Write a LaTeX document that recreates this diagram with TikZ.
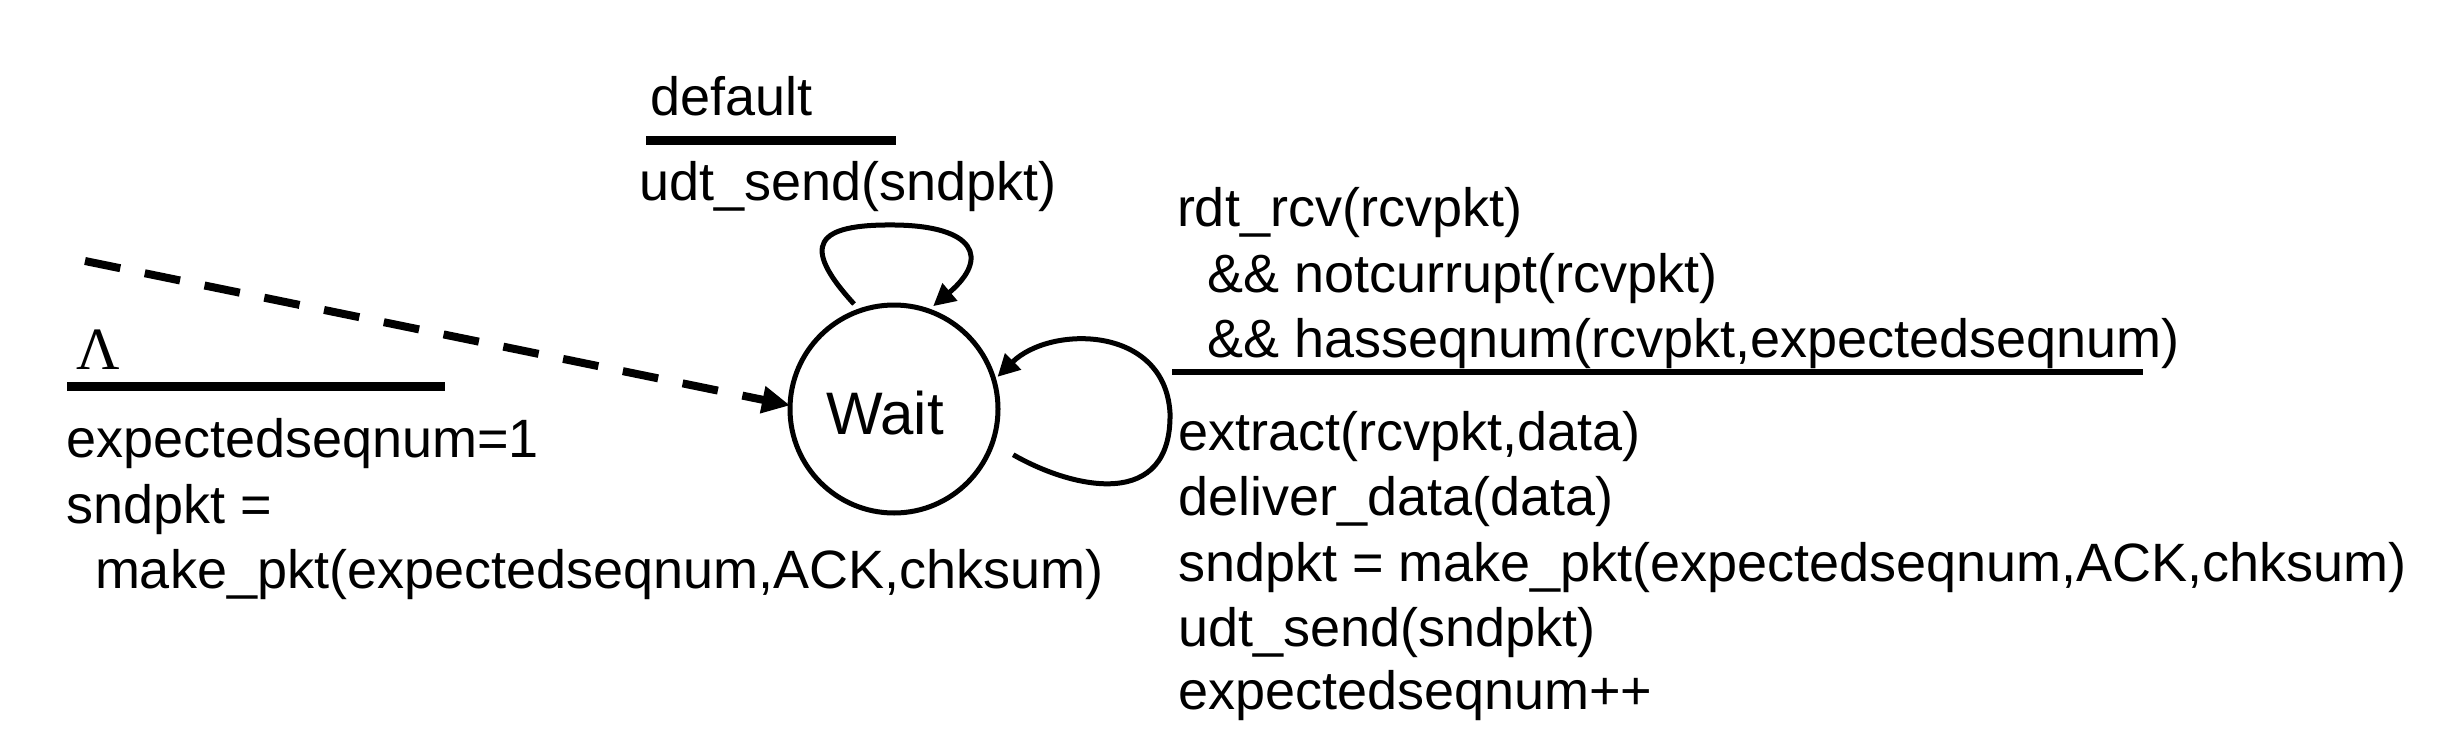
\documentclass[tikz,border=0pt]{standalone}
\usepackage{fontspec}
\setmainfont{Liberation Sans}
\newfontfamily\lamfont{Liberation Serif}
\usetikzlibrary{arrows.meta}
\begin{document}
\begin{tikzpicture}[x=1pt,y=-1pt,
  txt/.style={anchor=base west, inner sep=0pt, outer sep=0pt, font=\fontsize{54}{65}\selectfont},
  state/.style={circle, draw, line width=5pt, minimum size=208pt, inner sep=0pt, outer sep=0pt},
  thickbar/.style={line width=9pt, line cap=butt},
  thinbar/.style={line width=6pt, line cap=butt},
  loopedge/.style={line width=5pt, -{Triangle[length=22pt,width=22pt]}},
  initedge/.style={line width=8pt, line cap=butt, dash pattern=on 36pt off 25pt, -{Triangle[length=28pt,width=26pt]}}]
\useasboundingbox (0,0) rectangle (2452,752);

% state
\node[state] (wait) at (894,409) {};
\node[anchor=base west, inner sep=0pt, font=\fontsize{60}{72}\selectfont] (waitlbl) at (826,434) {Wait};

% initial transition
\coordinate (istart) at (85,261);
\draw[initedge] (istart) -- (wait.178);
\node[anchor=base west, inner sep=0pt, font=\lamfont\fontsize{60}{72}\selectfont] (lam) at (76,369) {Λ};
\draw[thickbar] (67,386.5) -- (445,386.5);
\node[txt] (i1) at (66,457) {expectedseqnum=1};
\node[txt] (i2) at (66,523) {sndpkt =};
\node[txt] (i3) at (95,588) {make\_pkt(expectedseqnum,ACK,chksum)};

% default self loop
\node[txt] (dflt) at (650,115) {default};
\draw[thickbar] (646,140.5) -- (896,140.5);
\node[txt] (dact) at (639,200) {udt\_send(sndpkt)};
\draw[loopedge, shorten <=9pt, shorten >=7pt] (wait.109) .. controls (800,245) and (815,224) .. (895,225) .. controls (975,226) and (990,258) .. (wait.71);

% receive self loop
\draw[loopedge, shorten <=24pt, shorten >=5pt] (wait.-19) .. controls (1075,490) and (1172,510) .. (1170,413) .. controls (1165,325) and (1050,325) .. (wait.16);
\node[txt] (r1) at (1177,226) {rdt\_rcv(rcvpkt)};
\node[txt] (r2) at (1207,292) {\&\& notcurrupt(rcvpkt)};
\node[txt] (r3) at (1207,357) {\&\& hasseqnum(rcvpkt,expectedseqnum)};
\draw[thinbar] (1172,372) -- (2143,372);
\node[txt] (a1) at (1178,450) {extract(rcvpkt,data)};
\node[txt] (a2) at (1178,515) {deliver\_data(data)};
\node[txt] (a3) at (1178,581) {sndpkt = make\_pkt(expectedseqnum,ACK,chksum)};
\node[txt] (a4) at (1178,646) {udt\_send(sndpkt)};
\node[txt] (a5) at (1178,709) {expectedseqnum++};
\end{tikzpicture}
\end{document}
